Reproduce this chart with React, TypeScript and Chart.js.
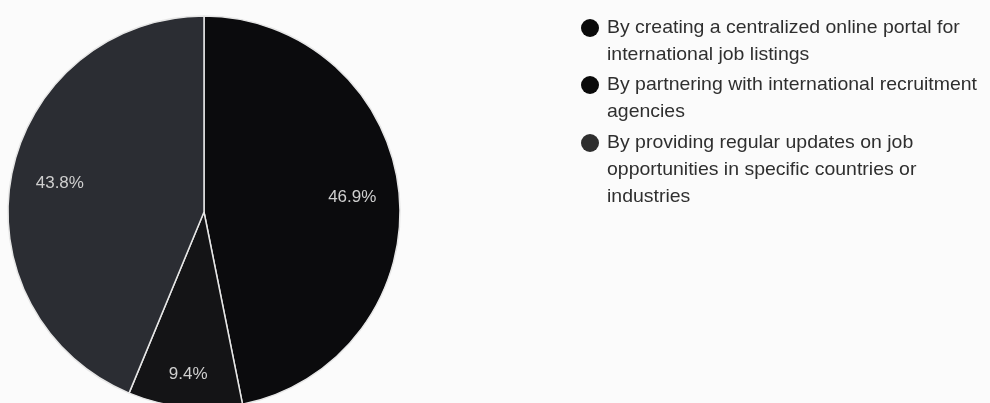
import React, { useEffect, useRef } from "react";
import { Chart, registerables } from "chart.js";

Chart.register(...registerables);

const categories: string[][] = [
  ["By creating a centralized online portal for", "international job listings"],
  ["By partnering with international recruitment", "agencies"],
  ["By providing regular updates on job", "opportunities in specific countries or", "industries"],
];
const shares = [46.9, 9.4, 43.8];
const percentLabels = ["46.9%", "9.4%", "43.8%"];
const sliceColors = ["#0b0b0d", "#141416", "#2b2d33"];
const markerColors = ["#0a0a0a", "#0a0a0a", "#2e2e2e"];

const sliceLabelPlugin = {
  id: "sliceLabels",
  afterDatasetsDraw(chart: any) {
    const ctx = chart.ctx;
    const meta = chart.getDatasetMeta(0);
    const factors = [0.76, 0.83, 0.75];
    ctx.save();
    ctx.font = "17px 'Liberation Sans', Arial, sans-serif";
    ctx.fillStyle = "#cfcfcf";
    ctx.textAlign = "center";
    ctx.textBaseline = "middle";
    meta.data.forEach((arc: any, i: number) => {
      const p = arc.getProps(["x", "y", "startAngle", "endAngle", "outerRadius"], true);
      const mid = (p.startAngle + p.endAngle) / 2;
      const r = p.outerRadius * factors[i];
      ctx.fillText(percentLabels[i], p.x + Math.cos(mid) * r, p.y + Math.sin(mid) * r);
    });
    ctx.restore();
  },
};

const legendPlugin = {
  id: "sideLegend",
  afterDraw(chart: any) {
    const ctx = chart.ctx;
    const markerX = 590;
    const textX = 607;
    const itemTops = [28, 85, 143];
    const lineH = 27;
    ctx.save();
    ctx.font = "19px 'Liberation Sans', Arial, sans-serif";
    const refW = ctx.measureText(categories[1][0]).width;
    const sx = 370 / refW;
    ctx.textBaseline = "middle";
    ctx.textAlign = "left";
    categories.forEach((lines, i) => {
      const top = itemTops[i];
      ctx.beginPath();
      ctx.arc(markerX, top, 9, 0, Math.PI * 2);
      ctx.fillStyle = markerColors[i];
      ctx.fill();
      ctx.fillStyle = "#2f2f2f";
      lines.forEach((line, j) => {
        ctx.save();
        ctx.translate(textX, top + j * lineH);
        ctx.scale(sx, 1);
        ctx.fillText(line, 0, 0);
        ctx.restore();
      });
    });
    ctx.restore();
  },
};

export default function App() {
  const ref = useRef<HTMLCanvasElement | null>(null);
  useEffect(() => {
    if (!ref.current) return;
    const chart = new Chart(ref.current, {
      type: "pie",
      data: {
        labels: categories.map((c) => c.join(" ")),
        datasets: [
          {
            data: shares,
            backgroundColor: sliceColors,
            borderColor: "#e6e6e6",
            borderWidth: 1.5,
            radius: 196,
          } as any,
        ],
      },
      options: {
        responsive: false,
        animation: false,
        layout: { padding: { left: 8, top: 16, right: 590, bottom: 12 } },
        plugins: {
          legend: { display: false },
          tooltip: { enabled: false },
        },
      },
      plugins: [sliceLabelPlugin, legendPlugin],
    });
    return () => chart.destroy();
  }, []);
  return (
    <div
      style={{
        position: "absolute",
        left: 0,
        top: 0,
        width: 990,
        height: 403,
        overflow: "hidden",
        background: "#fbfbfb",
      }}
    >
      <canvas ref={ref} width={990} height={420} style={{ width: 990, height: 420, display: "block" }} />
    </div>
  );
}
